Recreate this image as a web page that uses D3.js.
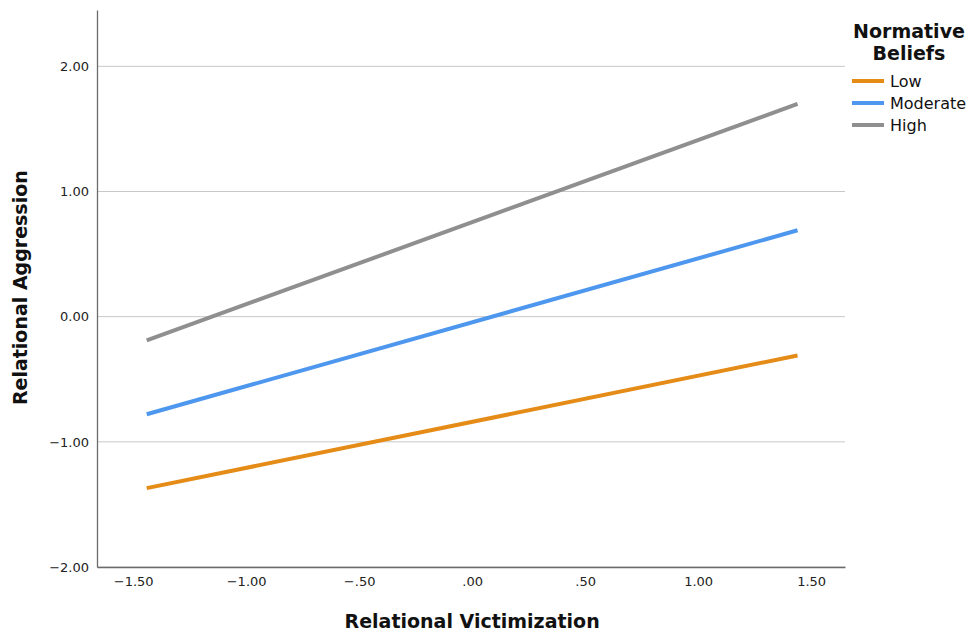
<!DOCTYPE html>
<html>
<head>
<meta charset="utf-8">
<script src="https://cdn.jsdelivr.net/npm/d3@7"></script>
<style>
  body { margin: 0; background: #fff; }
  text { font-family: "DejaVu Sans", sans-serif; }
</style>
</head>
<body>
<div id="chart"></div>
<script>
// data
const xEnds = [-1.44, 1.44];
const lowVals = [-1.37, -0.31];
const moderateVals = [-0.78, 0.69];
const highVals = [-0.19, 1.70];
const seriesNames = ['Low', 'Moderate', 'High'];
const seriesColors = ['#e48c17', '#4e97ee', '#8f8f8f'];
const xTicks = [-1.5, -1, -0.5, 0, 0.5, 1, 1.5];
const yTicks = [-2, -1, 0, 1, 2];

const width = 972, height = 636;
const margin = {top: 10, right: 127, bottom: 69, left: 97};
const w = width - margin.left - margin.right;
const h = height - margin.top - margin.bottom;

const svg = d3.select('#chart').append('svg')
  .attr('width', width)
  .attr('height', height);

const g = svg.append('g')
  .attr('transform', 'translate(' + margin.left + ',' + margin.top + ')');

const x = d3.scaleLinear().domain([-1.66, 1.65]).range([0, w]);
const y = d3.scaleLinear().domain([-2, 2.45]).range([h, 0]);

// x axis drops the leading zero (".50"), y axis keeps it ("0.00")
const fmtX = v => {
  let s = d3.format('.2f')(Math.abs(v));
  if (s.startsWith('0')) s = s.slice(1);
  return (v < 0 ? '\u2212' : '') + s;
};
const fmtY = v => (v < 0 ? '\u2212' : '') + d3.format('.2f')(Math.abs(v));

// gridlines
g.append('g')
  .selectAll('line')
  .data(yTicks)
  .enter().append('line')
    .attr('x1', 0).attr('x2', w)
    .attr('y1', d => y(d)).attr('y2', d => y(d))
    .attr('stroke', '#c8c8c8')
    .attr('stroke-width', 1);

// axes
const yAxis = g.append('g')
  .call(d3.axisLeft(y).tickValues(yTicks).tickSize(0).tickPadding(8).tickFormat(fmtY));
yAxis.select('.domain').attr('stroke', '#6b6b6b').attr('stroke-width', 1.3);
yAxis.selectAll('text').attr('font-size', 13).attr('fill', '#222');

const xAxis = g.append('g')
  .attr('transform', 'translate(0,' + h + ')')
  .call(d3.axisBottom(x).tickValues(xTicks).tickSize(0).tickPadding(10).tickFormat(fmtX));
xAxis.select('.domain').attr('stroke', '#6b6b6b').attr('stroke-width', 1.3);
xAxis.selectAll('text').attr('font-size', 13).attr('fill', '#222');

// lines
const series = [lowVals, moderateVals, highVals];
const line = d3.line()
  .x((d, i) => x(xEnds[i]))
  .y(d => y(d));

g.selectAll('.series')
  .data(series)
  .enter().append('path')
    .attr('class', 'series')
    .attr('d', d => line(d))
    .attr('fill', 'none')
    .attr('stroke', (d, i) => seriesColors[i])
    .attr('stroke-width', 4);

// axis titles
svg.append('text')
  .attr('x', margin.left + x(0))
  .attr('y', 628)
  .attr('text-anchor', 'middle')
  .attr('font-size', 19)
  .attr('font-weight', 'bold')
  .attr('fill', '#111')
  .text('Relational Victimization');

svg.append('text')
  .attr('transform', 'translate(27,' + (margin.top + y(0) - 29) + ')rotate(-90)')
  .attr('text-anchor', 'middle')
  .attr('font-size', 19)
  .attr('font-weight', 'bold')
  .attr('fill', '#111')
  .text('Relational Aggression');

// legend
const legend = svg.append('g');
legend.append('text')
  .attr('x', 909).attr('y', 38)
  .attr('text-anchor', 'middle')
  .attr('font-size', 19).attr('font-weight', 'bold').attr('fill', '#111')
  .text('Normative');
legend.append('text')
  .attr('x', 909).attr('y', 60)
  .attr('text-anchor', 'middle')
  .attr('font-size', 19).attr('font-weight', 'bold').attr('fill', '#111')
  .text('Beliefs');

const items = legend.selectAll('.item')
  .data(seriesNames)
  .enter().append('g')
    .attr('class', 'item')
    .attr('transform', (d, i) => 'translate(852,' + (81 + i * 22) + ')');
items.append('line')
  .attr('x1', 0).attr('x2', 32)
  .attr('stroke', (d, i) => seriesColors[i])
  .attr('stroke-width', 4);
items.append('text')
  .attr('x', 38).attr('dy', '0.35em')
  .attr('font-size', 16).attr('fill', '#111')
  .text(d => d);
</script>
</body>
</html>
